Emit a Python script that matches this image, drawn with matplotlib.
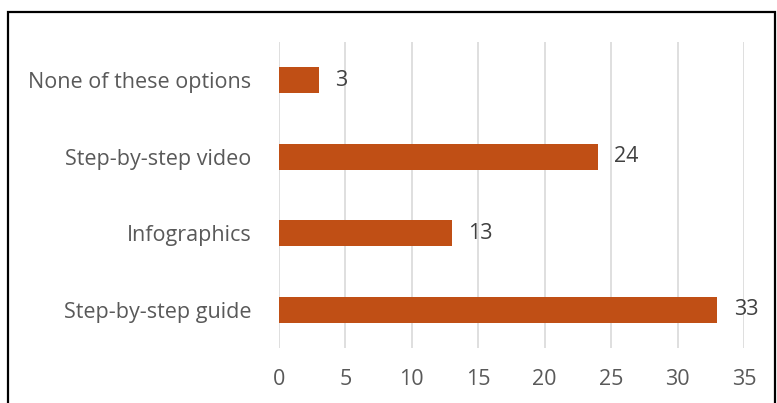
import matplotlib.pyplot as plt
from matplotlib.patches import Rectangle

# survey answers, bottom to top
categories = ["Step-by-step guide", "Infographics", "Step-by-step video", "None of these options"]
counts = [33, 13, 24, 3]
xticks = [0, 5, 10, 15, 20, 25, 30, 35]

bar_color = "#C04F15"
text_color = "#595959"
fs = 15.5

plt.rcParams['font.family'] = ['Open Sans', 'DejaVu Sans']

fig = plt.figure(figsize=(7.77, 4.03), dpi=100)
ax = fig.add_axes([0.359, 0.137, 0.5985, 0.759])

ypos = range(len(categories))
ax.barh(ypos, counts, height=0.34, color=bar_color, zorder=3)

for y, v in zip(ypos, counts):
    ax.annotate(str(v), (v, y), xytext=(12, 0), textcoords="offset points",
                va="center", ha="left", fontsize=fs, color="#404040")

ax.set_xlim(0, 35)
ax.set_ylim(-0.5, 3.5)
ax.set_xticks(xticks)
ax.set_yticks(list(ypos))
ax.set_yticklabels(categories)
ax.tick_params(axis="both", length=0, labelsize=fs, colors=text_color)
ax.tick_params(axis="y", pad=20)
ax.tick_params(axis="x", pad=15)
ax.grid(axis="x", color="#D9D9D9", linewidth=1.2, zorder=0)
for s in ax.spines.values():
    s.set_visible(False)

# frame around the chart area
fig.patches.append(Rectangle((8 / 777, -0.1), 767 / 777, 1.1 - 12 / 403,
                             transform=fig.transFigure, fill=False,
                             edgecolor="black", linewidth=1.6))

fig.savefig("out.png", dpi=100)
